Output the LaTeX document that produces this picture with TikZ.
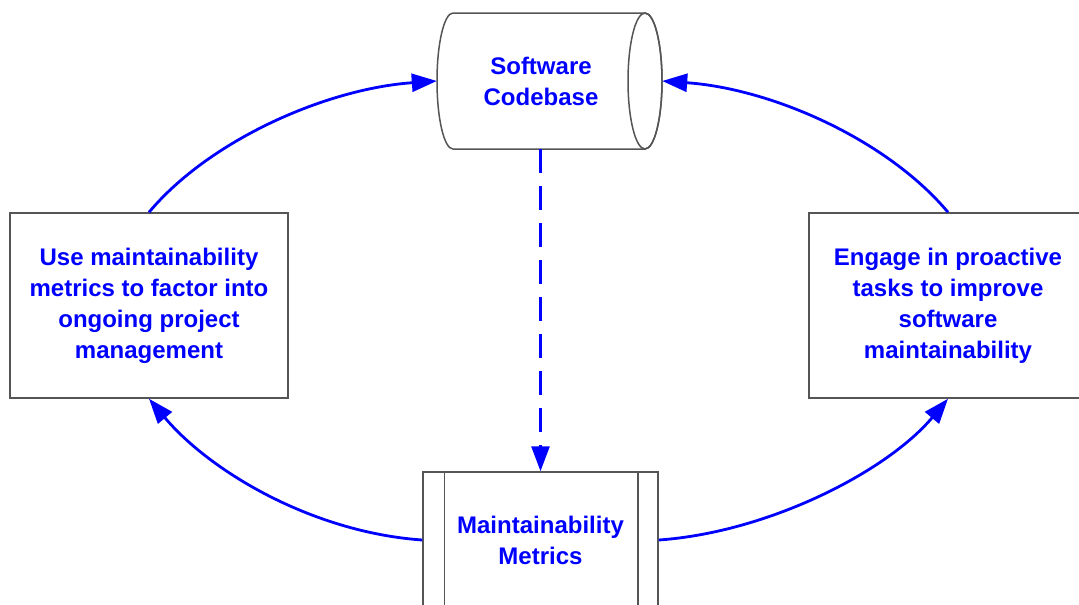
\documentclass[tikz,border=0pt]{standalone}
\usepackage{fontspec}
\setmainfont{Liberation Sans}
\usetikzlibrary{arrows.meta}
\definecolor{edgegray}{RGB}{85,85,85}
\definecolor{flowblue}{RGB}{0,0,255}
\begin{document}
\begin{tikzpicture}[x=1pt,y=1pt,
  lbl/.style={text=flowblue,font=\fontsize{24}{31}\selectfont\bfseries,align=center},
  procbox/.style={draw=edgegray,line width=1.5pt,fill=white,minimum width=278pt,minimum height=185pt,inner sep=0pt},
  cylbody/.style={minimum width=225pt,minimum height=136pt,inner sep=0pt},
  outline/.style={draw=edgegray,line width=1.5pt},
  flow/.style={draw=flowblue,line width=2.8pt,-{Triangle[length=25pt,width=18pt]}},
  dflow/.style={flow,dash pattern=on 24pt off 13pt}]
\useasboundingbox (0,0) rectangle (1079,-605);
\clip (0,0) rectangle (1079,-605);
\fill[white] (0,0) rectangle (1079,-605);

% cylinder (Software Codebase)
\node[cylbody] (cyl) at (549.5,-81) {};
\draw[outline,fill=white] (453,-13) -- (645,-13)
  arc[start angle=90,end angle=-90,x radius=17pt,y radius=68pt]
  -- (453,-149)
  arc[start angle=270,end angle=90,x radius=16pt,y radius=68pt] -- cycle;
\draw[outline] (645,-81) ellipse[x radius=17pt,y radius=68pt];
\node[lbl] (cyltext) at (541,-81) {Software\\Codebase};

% predefined process (Maintainability Metrics)
\node[procbox,lbl,minimum width=235pt,minimum height=136pt] (met) at (540.5,-540) {Maintainability\\Metrics};
\draw[outline] ([xshift=22pt]met.north west) -- ([xshift=22pt]met.south west);
\draw[outline] ([xshift=-21pt]met.north east) -- ([xshift=-21pt]met.south east);

% side boxes
\node[procbox,lbl] (use) at (149,-305.5) {Use maintainability\\metrics to factor into\\ongoing project\\management};
\node[procbox,lbl] (engage) at (948,-305.5) {Engage in proactive\\tasks to improve\\software\\maintainability};

% connectors
\draw[flow] (use.north) .. controls +(50:95pt) and +(184:110pt) .. (cyl.west);
\draw[flow] (engage.north) .. controls +(130:95pt) and +(-4:110pt) .. (cyl.east);
\draw[flow] (met.west) .. controls +(176:110pt) and +(-50:95pt) .. (use.south);
\draw[flow] (met.east) .. controls +(4:110pt) and +(230:95pt) .. (engage.south);
\draw[dflow] (cyl.south -| met.north) -- (met.north);
\end{tikzpicture}
\end{document}
